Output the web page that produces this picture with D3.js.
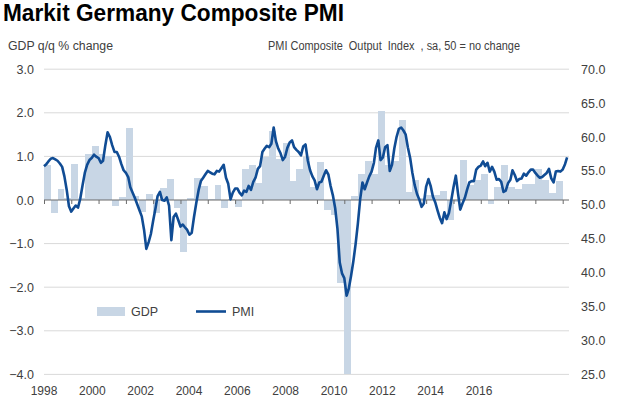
<!DOCTYPE html>
<html><head><meta charset="utf-8">
<script src="https://cdn.jsdelivr.net/npm/d3@7"></script>
<style>
body{margin:0;background:#fff}
svg{display:block}
text{font-family:"Liberation Sans",Arial,sans-serif}
</style>
</head><body>
<svg id="chart" width="620" height="400"></svg>
<script>
// ---- DATA ----
const titleText = "Markit Germany Composite PMI";
const leftAxisTitle = "GDP q/q % change";
const rightAxisTitle = "PMI Composite  Output  Index  , sa, 50 = no change";
const legendLabels = ["GDP", "PMI"];

// Quarterly GDP q/q % change, 1998 Q1 .. 2016 Q4
const gdpStart = "1998-01";
const gdpValues = [
  0.81, -0.29, 0.26, 0.05,   // 1998
  0.82, 0.05, 1.05, 1.25,    // 1999
  1.05, 1.02, -0.13, 0.08,   // 2000
  1.66, 0.09, -0.27, 0.14,   // 2001
  -0.30, 0.27, 0.48, -0.18,  // 2002
  -1.19, 0.04, 0.50, 0.32,   // 2003
  0.02, 0.34, -0.19, 0.02,   // 2004
  -0.17, 0.70, 0.80, 0.38,   // 2005
  0.99, 1.58, 0.95, 1.31,    // 2006
  0.44, 0.72, 0.99, 0.30,    // 2007
  0.87, -0.23, -0.35, -1.90, // 2008
  -4.00, 0.09, 0.60, 0.90,   // 2009
  0.60, 2.05, 0.80, 0.90,    // 2010
  1.84, 0.19, 0.45, 0.05,    // 2011
  0.11, 0.11, 0.21, -0.46,   // 2012
  -0.05, 0.91, 0.35, 0.46,   // 2013
  0.60, -0.10, 0.29, 0.80,   // 2014
  0.29, 0.26, 0.36, 0.36,    // 2015
  0.70, 0.45, 0.15, 0.44     // 2016
];

// Monthly PMI Composite Output Index, Jan 1998 .. Mar 2017
const pmiStart = "1998-01";
const pmiValues = [
  55.7, 56.0, 56.4, 56.8, 56.9, 56.7, 56.5, 56.1, 55.6, 54.2, 52.2, 49.8, // 1998
  49.0, 49.5, 49.9, 49.6, 50.9, 52.9, 54.7, 55.9, 56.6, 56.9, 57.4, 57.1, // 1999
  56.9, 56.2, 56.5, 58.8, 60.7, 60.0, 58.8, 57.8, 57.8, 57.1, 56.0, 55.1, // 2000
  54.7, 54.1, 52.6, 51.8, 51.0, 50.1, 49.2, 48.3, 46.3, 43.5, 44.5, 45.7, // 2001
  47.7, 49.5, 51.3, 51.9, 50.7, 50.6, 51.1, 49.9, 44.8, 48.2, 48.7, 47.8, // 2002
  46.8, 47.1, 46.7, 46.3, 45.6, 45.9, 48.2, 50.3, 52.2, 53.5, 54.0, 54.5, // 2003
  55.0, 54.8, 54.6, 54.5, 55.0, 54.9, 55.4, 55.9, 54.0, 53.1, 50.8, 51.8, // 2004
  52.4, 52.4, 51.8, 51.4, 52.1, 51.9, 52.8, 52.2, 53.4, 54.0, 55.3, 55.7, // 2005
  57.8, 58.3, 58.7, 58.5, 59.0, 61.4, 59.4, 58.3, 57.6, 56.6, 57.1, 58.4, // 2006
  59.2, 59.5, 58.5, 58.1, 57.8, 57.3, 58.6, 58.9, 56.5, 55.1, 54.2, 53.6, // 2007
  52.3, 53.3, 53.4, 54.3, 55.1, 54.5, 52.8, 51.4, 49.5, 46.5, 41.5, 39.9, // 2008
  39.2, 36.6, 37.6, 39.5, 41.6, 44.2, 47.2, 50.8, 53.3, 52.3, 53.3, 54.2, // 2009
  54.9, 56.2, 58.4, 59.5, 56.6, 57.0, 58.5, 58.8, 55.0, 55.9, 58.3, 60.0, // 2010
  61.2, 61.4, 61.0, 60.4, 58.5, 56.9, 54.7, 52.9, 51.6, 50.8, 49.7, 50.2, // 2011
  52.7, 53.8, 52.8, 51.2, 50.4, 49.2, 48.1, 47.3, 48.9, 47.9, 48.8, 50.6, // 2012
  52.6, 54.3, 51.8, 49.3, 50.2, 51.0, 52.2, 53.3, 53.5, 53.5, 55.2, 55.6, // 2013
  55.8, 56.4, 55.7, 56.2, 54.9, 55.6, 54.9, 53.7, 53.8, 53.4, 51.9, 52.1, // 2014
  53.2, 53.7, 55.1, 54.4, 53.5, 53.8, 53.9, 54.6, 54.3, 54.8, 55.2, 55.2, // 2015
  54.7, 54.3, 54.0, 54.1, 54.4, 54.7, 55.3, 53.9, 53.3, 54.9, 55.0, 54.9, // 2016
  55.2, 56.0, 57.0                                                        // 2017
];

const gdpTicks = [3, 2, 1, 0, -1, -2, -3, -4];
const pmiTicks = [70, 65, 60, 55, 50, 45, 40, 35, 30, 25];
const yearLabels = ["1998","2000","2002","2004","2006","2008","2010","2012","2014","2016"];

// ---- CHART ----
const svg = d3.select("#chart");
const parseMonth = d3.timeParse("%Y-%m");
const plotLeft = 44, plotRight = 569, plotTop = 69.2, plotBottom = 374.4;

const x = d3.scaleTime()
  .domain([new Date(1998, 0, 1), new Date(2017, 0, 1)])
  .range([44, 562.7]);
const yG = d3.scaleLinear().domain([-4, 3]).range([plotBottom, plotTop]);
const yP = d3.scaleLinear().domain([25, 70]).range([plotBottom, plotTop]);
const xLab = d3.scalePoint().domain(yearLabels).range([44, 479]);

const textColor = "#404040";
const barColor = "#c8d6e5";
const lineColor = "#104c94";

// Title
svg.append("text")
  .attr("x", 3).attr("y", 21)
  .attr("font-size", 24).attr("font-weight", "bold").attr("fill", "#000")
  .attr("textLength", 341).attr("lengthAdjust", "spacingAndGlyphs")
  .text(titleText);

// Axis titles
svg.append("text")
  .attr("x", 8).attr("y", 50)
  .attr("font-size", 12).attr("fill", textColor)
  .attr("textLength", 105).attr("lengthAdjust", "spacingAndGlyphs")
  .text(leftAxisTitle);
svg.append("text")
  .attr("x", 268).attr("y", 50)
  .attr("font-size", 12).attr("fill", textColor)
  .style("white-space", "pre")
  .attr("textLength", 252).attr("lengthAdjust", "spacingAndGlyphs")
  .text(rightAxisTitle);

// Gridlines
svg.append("g").selectAll("line")
  .data(gdpTicks.filter(d => d !== 0))
  .join("line")
  .attr("x1", plotLeft).attr("x2", plotRight)
  .attr("y1", d => yG(d)).attr("y2", d => yG(d))
  .attr("stroke", "#d9d9d9").attr("stroke-width", 1);

// GDP bars
const gdpStartDate = parseMonth(gdpStart);
const gdpData = gdpValues.map((v, i) => ({
  start: d3.timeMonth.offset(gdpStartDate, i * 3),
  end: d3.timeMonth.offset(gdpStartDate, i * 3 + 3),
  v
}));
svg.append("g").selectAll("rect")
  .data(gdpData)
  .join("rect")
  .attr("x", d => x(d.start))
  .attr("width", d => x(d.end) - x(d.start))
  .attr("y", d => yG(Math.max(0, d.v)))
  .attr("height", d => Math.abs(yG(d.v) - yG(0)))
  .attr("fill", barColor)
  .attr("shape-rendering", "crispEdges");

// Zero axis with yearly ticks
svg.append("line")
  .attr("x1", plotLeft).attr("x2", plotRight)
  .attr("y1", yG(0)).attr("y2", yG(0))
  .attr("stroke", "#6b6b6b").attr("stroke-width", 1);
const xAxis = d3.axisBottom(x)
  .tickValues(d3.timeYear.range(new Date(1998, 0, 1), new Date(2017, 6, 1)))
  .tickSize(4).tickFormat("");
const gx = svg.append("g").attr("transform", `translate(0,${yG(0)})`).call(xAxis);
gx.select(".domain").remove();
gx.selectAll(".tick line").attr("stroke", "#6b6b6b");

// PMI line
const pmiStartDate = parseMonth(pmiStart);
const pmiData = pmiValues.map((v, i) => ({ date: d3.timeMonth.offset(pmiStartDate, i), v }));
const line = d3.line().x(d => x(d.date)).y(d => yP(d.v));
svg.append("path")
  .datum(pmiData)
  .attr("d", line)
  .attr("fill", "none")
  .attr("stroke", lineColor)
  .attr("stroke-width", 2.6)
  .attr("stroke-linejoin", "round");

// Left axis labels
const gl = svg.append("g").attr("transform", "translate(34,0)")
  .call(d3.axisLeft(yG).tickValues(gdpTicks).tickSize(0).tickPadding(0).tickFormat(d3.format(".1f")));
gl.select(".domain").remove();
gl.selectAll("text").attr("font-size", 12.5).attr("fill", textColor)
  .attr("font-family", "Liberation Sans, Arial, sans-serif");

// Right axis labels
const gr = svg.append("g").attr("transform", "translate(581,0)")
  .call(d3.axisRight(yP).tickValues(pmiTicks).tickSize(0).tickPadding(0).tickFormat(d3.format(".1f")));
gr.select(".domain").remove();
gr.selectAll("text").attr("font-size", 12.5).attr("fill", textColor)
  .attr("font-family", "Liberation Sans, Arial, sans-serif");

// Year labels
svg.append("g").selectAll("text")
  .data(yearLabels)
  .join("text")
  .attr("x", d => xLab(d)).attr("y", 395)
  .attr("text-anchor", "middle")
  .attr("font-size", 12).attr("fill", textColor)
  .text(d => d);

// Legend
const lg = svg.append("g");
lg.append("rect").attr("x", 97).attr("y", 307).attr("width", 28).attr("height", 9).attr("fill", barColor);
lg.append("text").attr("x", 131).attr("y", 316).attr("font-size", 12.5).attr("fill", textColor).text(legendLabels[0]);
lg.append("line").attr("x1", 196).attr("x2", 226).attr("y1", 311.5).attr("y2", 311.5)
  .attr("stroke", lineColor).attr("stroke-width", 2.6);
lg.append("text").attr("x", 232).attr("y", 316).attr("font-size", 12.5).attr("fill", textColor).text(legendLabels[1]);
</script>
</body></html>
